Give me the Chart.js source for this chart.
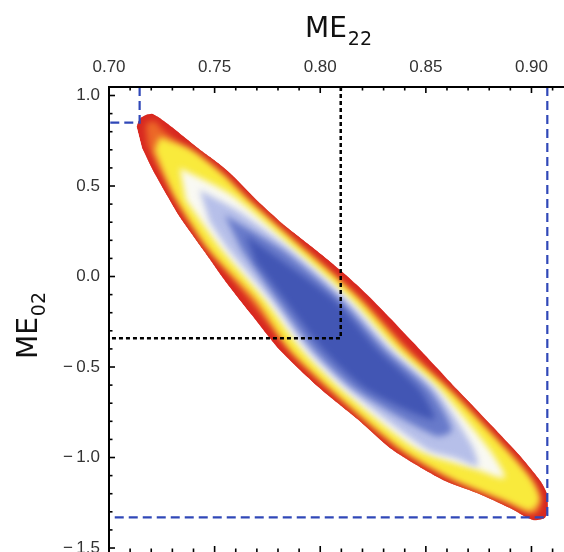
<!DOCTYPE html>
<html><head><meta charset="utf-8">
<script src="https://cdn.jsdelivr.net/npm/chart.js@4.4.1/dist/chart.umd.min.js"></script>
<style>html,body{margin:0;padding:0;background:#fff;}#wrap{width:564px;height:552px;position:relative;}</style>
</head><body><div id="wrap"><canvas id="c" width="564" height="552"></canvas></div>
<script>
// ---- axis ranges and ticks ----
const X_MIN = 0.70, X_MAX = 0.9154, Y_MIN = -1.522, Y_MAX = 1.047;
const xMajorTicks = [0.70, 0.75, 0.80, 0.85, 0.90];
const xMinorTicks = [0.71,0.72,0.73,0.74,0.76,0.77,0.78,0.79,0.81,0.82,0.83,0.84,0.86,0.87,0.88,0.89,0.91];
const yMajorTicks = [1.0, 0.5, 0.0, -0.5, -1.0, -1.5];
const yMinorTicks = [0.9,0.8,0.7,0.6,0.4,0.3,0.2,0.1,-0.1,-0.2,-0.3,-0.4,-0.6,-0.7,-0.8,-0.9,-1.1,-1.2,-1.3,-1.4];

// ---- density contour layers (ME22, ME02), outer -> inner ----
const redX = [0.7131,0.7145,0.7174,0.7207,0.7273,0.7415,0.7557,0.7699,0.7841,0.7979,0.8116,0.8234,0.8443,0.8651,0.8921,0.9039,0.9072,0.9077,0.9063,0.9006,0.8897,0.8741,0.8580,0.8343,0.8178,0.8007,0.7808,0.7676,0.7553,0.7453,0.7335,0.7287,0.7207,0.7155];
const redY = [0.826,0.870,0.892,0.898,0.848,0.715,0.588,0.423,0.273,0.146,0.014,-0.113,-0.367,-0.627,-0.959,-1.124,-1.196,-1.290,-1.334,-1.345,-1.279,-1.196,-1.124,-0.959,-0.790,-0.627,-0.406,-0.213,-0.030,0.135,0.329,0.423,0.588,0.715];
const orangeX = [0.7174,0.7179,0.7193,0.7216,0.7254,0.7392,0.7534,0.7671,0.7813,0.7950,0.8088,0.8206,0.8414,0.8623,0.8892,0.9001,0.9035,0.9039,0.9030,0.8997,0.8906,0.8750,0.8594,0.8367,0.8206,0.8036,0.7837,0.7704,0.7581,0.7482,0.7363,0.7316,0.7235,0.7183];
const orangeY = [0.826,0.848,0.853,0.859,0.809,0.677,0.550,0.389,0.240,0.113,-0.019,-0.146,-0.401,-0.660,-0.992,-1.141,-1.207,-1.279,-1.301,-1.312,-1.240,-1.157,-1.086,-0.925,-0.760,-0.594,-0.373,-0.185,-0.003,0.163,0.356,0.445,0.605,0.727];
const yellowX = [0.7240,0.7392,0.7543,0.7661,0.7927,0.8187,0.8400,0.8613,0.8883,0.9001,0.9039,0.8996,0.8874,0.8632,0.8386,0.8050,0.7856,0.7695,0.7473,0.7320,0.7264,0.7216];
const yellowY = [0.771,0.699,0.561,0.423,0.146,-0.130,-0.406,-0.627,-0.959,-1.124,-1.234,-1.296,-1.240,-1.124,-0.959,-0.627,-0.406,-0.130,0.146,0.423,0.561,0.699];
const whiteX = [0.7335,0.7581,0.7884,0.8149,0.8362,0.8570,0.8803,0.8874,0.8746,0.8462,0.8102,0.7912,0.7737,0.7534,0.7363];
const whiteY = [0.599,0.450,0.146,-0.130,-0.406,-0.627,-0.959,-1.113,-1.069,-0.959,-0.627,-0.406,-0.130,0.146,0.423];
const lightX = [0.7429,0.7619,0.7860,0.8125,0.8339,0.8547,0.8717,0.8746,0.8637,0.8509,0.8135,0.7941,0.7766,0.7567,0.7477];
const lightY = [0.478,0.356,0.146,-0.130,-0.406,-0.627,-0.931,-1.047,-1.003,-0.959,-0.627,-0.406,-0.130,0.146,0.301];
const blueX = [0.7548,0.7822,0.8097,0.8310,0.8518,0.8623,0.8547,0.8168,0.7969,0.7794,0.7628];
const blueY = [0.340,0.146,-0.130,-0.406,-0.627,-0.848,-0.881,-0.627,-0.406,-0.130,0.146];
const coreX = [0.7647,0.8064,0.8272,0.8471,0.8537,0.8225,0.8016,0.7832,0.7695];
const coreY = [0.229,-0.130,-0.406,-0.627,-0.790,-0.627,-0.406,-0.130,0.080];

// ---- reference lines ----
const bestFit = [0.8097, -0.341];       // ME22, ME02
const cornerUpper = [0.7145, 0.850];    // blue dashed corner (upper-left)
const cornerLower = [0.9075, -1.331];   // blue dashed corner (lower-right)

const pts = (xs, ys) => xs.map((v, i) => ({x: v, y: ys[i]}));
const elbow = (c) => [{x: c[0], y: Y_MAX}, {x: c[0], y: c[1]}, {x: X_MIN, y: c[1]}];

const layers = [
  {xs: redX, ys: redY, color: 'rgb(216,40,32)'},
  {xs: orangeX, ys: orangeY, color: 'rgb(236,104,40)'},
  {xs: yellowX, ys: yellowY, color: 'rgb(249,234,60)'},
  {xs: whiteX, ys: whiteY, color: 'rgb(249,249,243)'},
  {xs: lightX, ys: lightY, color: 'rgb(182,191,233)'},
  {xs: blueX, ys: blueY, color: 'rgb(104,122,202)'},
  {xs: coreX, ys: coreY, color: 'rgb(66,86,180)'}
];
const datasets = layers.map((L, i) => ({
  data: pts(L.xs, L.ys), fill: 'shape', backgroundColor: L.color,
  borderColor: L.color, borderWidth: i === 0 ? 1 : 0, tension: 0.25,
  pointRadius: 0, order: layers.length - i
}));
const LAST_LAYER = layers.length - 1;
const BLUE = 'rgb(48,72,184)';
datasets.push({data: elbow(cornerUpper), fill: false, borderColor: BLUE, borderWidth: 2.2, borderDash: [9,5], pointRadius: 0, tension: 0, order: 0});
datasets.push({data: elbow(cornerLower), fill: false, borderColor: BLUE, borderWidth: 2.2, borderDash: [9,5], pointRadius: 0, tension: 0, order: 0});
datasets.push({data: elbow(bestFit), fill: false, borderColor: '#000', borderWidth: 2.5, borderDash: [4,3], pointRadius: 0, tension: 0, order: 0});

// inner layers are softened (blurred) and clipped to the outer contour
const softShading = {
  id: 'softShading',
  beforeDatasetsDraw(chart) {
    const ctx = chart.ctx;
    const outer = chart.getDatasetMeta(0).dataset;
    ctx.save();
    ctx.beginPath();
    outer.path(ctx);
    ctx.closePath();
    ctx.clip();
    ctx.filter = 'none';
  },
  afterDatasetDraw(chart, args) {
    if (args.index === 0) chart.ctx.filter = 'blur(3px)';
    if (args.index === LAST_LAYER) chart.ctx.restore();
  }
};

const frame = {
  id: 'frame',
  afterDraw(chart) {
    const {ctx, chartArea: a, scales: {x, y}} = chart;
    ctx.save();
    ctx.strokeStyle = '#000';
    const seg = (x1, y1, x2, y2) => { ctx.beginPath(); ctx.moveTo(x1, y1); ctx.lineTo(x2, y2); ctx.stroke(); };
    ctx.lineWidth = 2;
    seg(a.left, a.bottom + 2, a.left, a.top);
    seg(a.left - 1, a.top, a.right + 2, a.top);
    ctx.lineWidth = 1.6;
    xMajorTicks.forEach(v => { const p = x.getPixelForValue(v); seg(p, a.top, p, a.top + 6); seg(p, a.bottom, p, a.bottom - 6); });
    xMinorTicks.forEach(v => { const p = x.getPixelForValue(v); seg(p, a.top, p, a.top + 3.5); seg(p, a.bottom, p, a.bottom - 3.5); });
    yMajorTicks.forEach(v => { const p = y.getPixelForValue(v); seg(a.left, p, a.left + 6, p); });
    yMinorTicks.forEach(v => { const p = y.getPixelForValue(v); seg(a.left, p, a.left + 3.5, p); });
    // axis titles with subscripts
    ctx.fillStyle = '#111';
    ctx.textBaseline = 'alphabetic';
    ctx.textAlign = 'left';
    ctx.font = '28px "DejaVu Sans"';
    const wME = ctx.measureText('ME').width;
    ctx.fillText('ME', 305, 37);
    ctx.font = '19px "DejaVu Sans"';
    ctx.fillText('22', 305 + wME + 1, 45);
    ctx.translate(37, 359);
    ctx.rotate(-Math.PI / 2);
    ctx.font = '28px "DejaVu Sans"';
    ctx.fillText('ME', 0, 0);
    ctx.font = '19px "DejaVu Sans"';
    ctx.fillText('02', wME + 1, 8);
    ctx.restore();
  }
};

const tickFont = {family: '"Liberation Sans", Arial, sans-serif', size: 17};
new Chart(document.getElementById('c'), {
  type: 'line',
  data: {datasets},
  options: {
    responsive: false, animation: false, devicePixelRatio: 1,
    layout: {padding: 0},
    plugins: {legend: {display: false}, tooltip: {enabled: false}, title: {display: false}},
    scales: {
      x: {
        type: 'linear', position: 'top', min: X_MIN, max: X_MAX, bounds: 'data',
        grid: {display: false, drawTicks: false}, border: {display: false},
        afterBuildTicks: s => { s.ticks = xMajorTicks.map(v => ({value: v})); },
        afterFit: s => { s.height = 87; s.paddingLeft = 0; s.paddingRight = 0; s.paddingTop = 0; s.paddingBottom = 0; },
        ticks: {autoSkip: false, maxRotation: 0, padding: 9, color: '#333', font: tickFont,
                callback: v => v.toFixed(2)}
      },
      y: {
        type: 'linear', position: 'left', min: Y_MIN, max: Y_MAX, bounds: 'data',
        grid: {display: false, drawTicks: false}, border: {display: false},
        afterBuildTicks: s => { s.ticks = yMajorTicks.map(v => ({value: v})); },
        afterFit: s => { s.width = 109; s.paddingTop = 0; s.paddingBottom = 0; s.paddingLeft = 0; s.paddingRight = 0; },
        ticks: {autoSkip: false, padding: 9, color: '#333', font: tickFont,
                callback: v => Math.abs(v) < 1e-9 ? '0.0' : (v < 0 ? '\u2212\u2009' + (-v).toFixed(1) : v.toFixed(1))}
      }
    }
  },
  plugins: [softShading, frame]
});
</script>
</body></html>
